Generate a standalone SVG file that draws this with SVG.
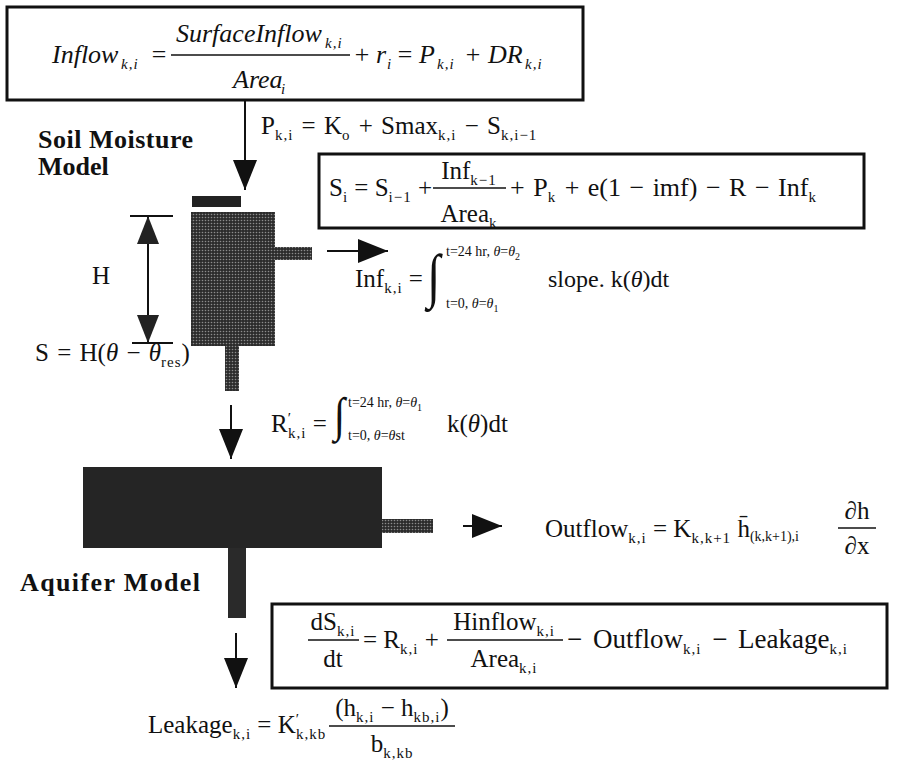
<svg xmlns="http://www.w3.org/2000/svg" width="904" height="761" viewBox="0 0 904 761">
<defs>
<style>
.m{font-family:"Liberation Serif","Times New Roman",serif;font-size:25px;fill:#111}
.mi{font-family:"Liberation Serif","Times New Roman",serif;font-size:26px;font-style:italic;fill:#111}
.sb{font-size:15px;letter-spacing:1px}
.lim{font-family:"Liberation Serif","Times New Roman",serif;font-size:14px;fill:#111}
.it{font-style:italic}
.lbl{font-family:"Liberation Serif","Times New Roman",serif;font-size:26px;font-weight:bold;fill:#111}
.box{fill:none;stroke:#111;stroke-width:3}
.fl{stroke:#111;stroke-width:1.3}
.ln{stroke:#111;stroke-width:2;fill:none}
.int{font-family:"Liberation Serif","Times New Roman",serif;fill:#111}
</style>
<pattern id="dots" width="3" height="3" patternUnits="userSpaceOnUse">
<rect width="3" height="3" fill="#2c2c2c"/><circle cx="1.5" cy="1.5" r="0.8" fill="#8c8c8c"/>
</pattern>
<marker id="ah" markerUnits="userSpaceOnUse" markerWidth="30" markerHeight="24" refX="30" refY="12" orient="auto"><path d="M0,0 L30,12 L0,24 z" fill="#111"/></marker>
<marker id="ahs" markerUnits="userSpaceOnUse" markerWidth="28" markerHeight="22" refX="28" refY="11" orient="auto-start-reverse"><path d="M0,0 L28,11 L0,22 z" fill="#222"/></marker>
</defs>
<rect width="904" height="761" fill="#fff"/>

<g id="inflow-box">
<rect class="box" x="7" y="7" width="576" height="93"/>
<text class="mi"><tspan x="52" y="63">Inflow</tspan><tspan class="sb" x="121" y="69">k,i</tspan><tspan x="150" y="63">=</tspan><tspan x="176" y="42">SurfaceInflow</tspan><tspan class="sb" x="325" y="48">k,i</tspan><tspan x="233" y="88">Area</tspan><tspan class="sb" x="281" y="94">i</tspan><tspan x="353" y="63">+</tspan><tspan x="376" y="63">r</tspan><tspan class="sb" x="387" y="69">i</tspan><tspan x="396" y="63">=</tspan><tspan x="419" y="63">P</tspan><tspan class="sb" x="437" y="69">k,i</tspan><tspan x="464" y="63">+</tspan><tspan x="488" y="63">DR</tspan><tspan class="sb" x="525" y="69">k,i</tspan></text>
<line class="fl" x1="171" y1="55" x2="350" y2="55"/>
</g>

<g id="p-eq">
<text class="m" x="261" y="134" style="word-spacing:2px">P<tspan class="sb" dy="6">k,i</tspan><tspan dy="-6"> = K</tspan><tspan class="sb" dy="6">o</tspan><tspan dy="-6"> + Smax</tspan><tspan class="sb" dy="6">k,i</tspan><tspan dy="-6"> − S</tspan><tspan class="sb" dy="6">k,i−1</tspan></text>
</g>

<g id="soil-label">
<text class="lbl" x="38" y="148" textLength="155">Soil Moisture</text>
<text class="lbl" x="38" y="175">Model</text>
</g>

<g id="s-box">
<rect class="box" x="319" y="154" width="545" height="74"/>
<text class="m" x="329" y="196">S<tspan class="sb" dy="6">i</tspan><tspan dy="-6"> = S</tspan><tspan class="sb" dy="6">i−1</tspan><tspan dy="-6"> +</tspan></text>
<text class="m" x="469" y="179" text-anchor="middle">Inf<tspan class="sb" dy="6">k−1</tspan></text>
<line class="fl" x1="433" y1="188" x2="506" y2="188"/>
<text class="m" x="469" y="222" text-anchor="middle">Area<tspan class="sb" dy="6">k</tspan></text>
<text class="m" x="510" y="196" style="font-size:26px;word-spacing:2px">+ P<tspan class="sb" dy="6">k</tspan><tspan dy="-6"> + e(1 − imf) − R − Inf</tspan><tspan class="sb" dy="6">k</tspan></text>
</g>

<g id="soil-column">
<rect x="192" y="196" width="49" height="11" fill="#222"/>
<rect x="191" y="212" width="84" height="134" fill="url(#dots)"/>
<rect x="275" y="247" width="37" height="13" fill="url(#dots)"/>
<rect x="225" y="346" width="14" height="45" fill="url(#dots)"/>
</g>

<g id="h-dim">
<line class="ln" x1="130" y1="216" x2="173" y2="216"/>
<line class="ln" x1="132" y1="343" x2="173" y2="343"/>
<text class="m" x="92" y="284">H</text>
</g>

<g id="inf-eq">
<text class="m" x="355" y="287">Inf<tspan class="sb" dy="6">k,i</tspan><tspan dy="-6"> =</tspan></text>
<text class="int" x="0" y="0" font-size="60" transform="translate(427,296) scale(0.8,1)">∫</text>
<text class="lim" x="446" y="256">t=24 hr, <tspan class="it">θ</tspan>=<tspan class="it">θ</tspan><tspan font-size="10" dy="4">2</tspan></text>
<text class="lim" x="446" y="308">t=0, <tspan class="it">θ</tspan>=<tspan class="it">θ</tspan><tspan font-size="10" dy="4">1</tspan></text>
<text class="m" x="548" y="287" style="font-size:24px">slope. k(<tspan class="it">θ</tspan>)dt</text>
</g>

<g id="storage-eq">
<text class="m" x="35" y="361" style="word-spacing:2px">S = H(<tspan class="it">θ</tspan> − <tspan class="it">θ</tspan><tspan class="sb" dy="6">res</tspan><tspan dy="-6">)</tspan></text>
</g>

<g id="r-eq">
<text class="m" x="271" y="432">R<tspan class="sb" dy="-9">′</tspan><tspan class="sb" dx="-4" dy="15">k,i</tspan><tspan dy="-6"> =</tspan></text>
<text class="int" x="0" y="0" font-size="48" transform="translate(334,431) scale(0.85,1)">∫</text>
<text class="lim" x="348" y="407">t=24 hr, <tspan class="it">θ</tspan>=<tspan class="it">θ</tspan><tspan font-size="10" dy="4">1</tspan></text>
<text class="lim" x="348" y="440">t=0, <tspan class="it">θ</tspan>=<tspan class="it">θ</tspan>st</text>
<text class="m" x="447" y="432">k(<tspan class="it">θ</tspan>)dt</text>
</g>

<g id="aquifer-block">
<rect x="83" y="467" width="299" height="81" fill="#252525"/>
<rect x="382" y="519" width="51" height="14" fill="url(#dots)"/>
<rect x="228" y="548" width="18" height="70" fill="#2a2a2a"/>
</g>

<g id="outflow-eq">
<text class="m" x="545" y="537">Outflow<tspan class="sb" dy="6">k,i</tspan><tspan dy="-6"> = K</tspan><tspan class="sb" dy="6">k,k+1</tspan><tspan dy="-6"> h̄</tspan><tspan dy="4" font-size="14">(k,k+1),i</tspan></text>
<text class="m" x="857" y="519" text-anchor="middle"><tspan class="it">∂</tspan>h</text>
<line class="fl" x1="838" y1="528" x2="876" y2="528"/>
<text class="m" x="857" y="554" text-anchor="middle"><tspan class="it">∂</tspan>x</text>
</g>

<g id="aquifer-label">
<text class="lbl" x="20" y="591" textLength="180">Aquifer Model</text>
</g>

<g id="ds-box">
<rect class="box" x="272" y="604" width="615" height="84"/>
<text class="m" x="333" y="630" text-anchor="middle">dS<tspan class="sb" dy="6">k,i</tspan></text>
<line class="fl" x1="308" y1="640" x2="359" y2="640"/>
<text class="m" x="333" y="667" text-anchor="middle">dt</text>
<text class="m" x="363" y="648">= R<tspan class="sb" dy="6">k,i</tspan><tspan dy="-6"> +</tspan></text>
<text class="m" x="504" y="630" text-anchor="middle">Hinflow<tspan class="sb" dy="6">k,i</tspan></text>
<line class="fl" x1="447" y1="640" x2="563" y2="640"/>
<text class="m" x="504" y="667" text-anchor="middle">Area<tspan class="sb" dy="6">k,i</tspan></text>
<text class="m" x="567" y="648" style="font-size:27px;word-spacing:4px">− Outflow<tspan class="sb" dy="6">k,i</tspan><tspan dy="-6"> − Leakage</tspan><tspan class="sb" dy="6">k,i</tspan></text>
</g>

<g id="leakage-eq">
<text class="m" x="148" y="733">Leakage<tspan class="sb" dy="6">k,i</tspan><tspan dy="-6"> = K</tspan><tspan class="sb" dy="-9">′</tspan><tspan class="sb" dx="-4" dy="15">k,kb</tspan></text>
<text class="m" x="392" y="716" text-anchor="middle">(h<tspan class="sb" dy="6">k,i</tspan><tspan dy="-6"> − h</tspan><tspan class="sb" dy="6">kb,i</tspan><tspan dy="-6">)</tspan></text>
<line class="fl" x1="329" y1="726" x2="455" y2="726"/>
<text class="m" x="392" y="752" text-anchor="middle">b<tspan class="sb" dy="6">k,kb</tspan></text>
</g>

<g id="connectors">
<line class="ln" x1="245" y1="101" x2="245" y2="190" marker-end="url(#ah)"/>
<line class="ln" x1="148" y1="216" x2="148" y2="343" marker-start="url(#ahs)" marker-end="url(#ahs)"/>
<line class="ln" x1="327" y1="251" x2="388" y2="251" marker-end="url(#ah)"/>
<line class="ln" x1="231" y1="405" x2="231" y2="459" marker-end="url(#ah)"/>
<line class="ln" x1="463" y1="526" x2="502" y2="526" marker-end="url(#ah)"/>
<line class="ln" x1="236" y1="633" x2="236" y2="688" marker-end="url(#ah)"/>
</g>
</svg>
